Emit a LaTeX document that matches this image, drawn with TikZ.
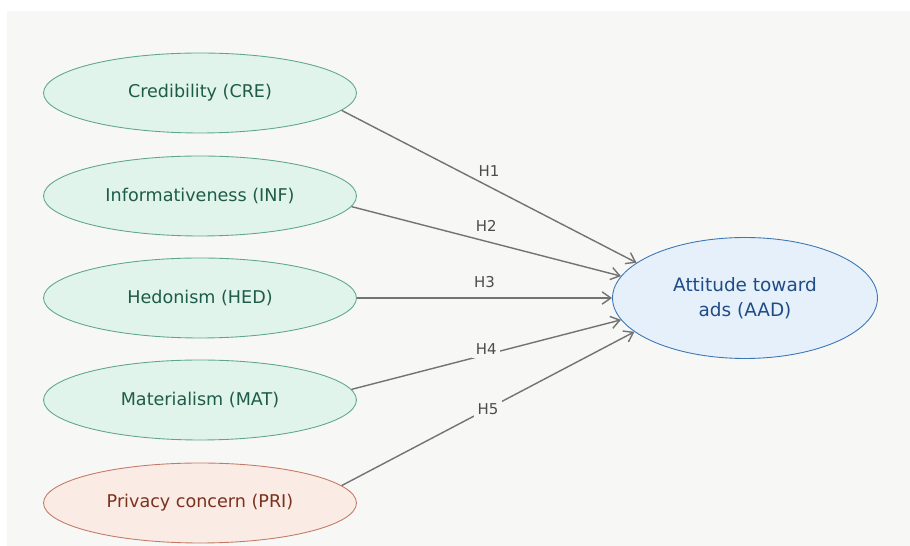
\documentclass[tikz,border=0pt]{standalone}
\usepackage{fontspec}
\setmainfont{DejaVu Sans}
\usetikzlibrary{shapes.geometric, arrows.meta}

\definecolor{pagebg}{HTML}{F7F7F5}
\definecolor{grfill}{HTML}{E0F4EC}
\definecolor{grline}{HTML}{5FA592}
\definecolor{grtext}{HTML}{1E5C49}
\definecolor{rdfill}{HTML}{FAEBE5}
\definecolor{rdline}{HTML}{C27A66}
\definecolor{rdtext}{HTML}{7B321D}
\definecolor{blfill}{HTML}{E5F0FB}
\definecolor{blline}{HTML}{3B76B5}
\definecolor{bltext}{HTML}{1F4C85}
\definecolor{arrowgray}{HTML}{737373}

\begin{document}
\begin{tikzpicture}[x=0.02cm, y=-0.02cm,
    factor/.style={ellipse, draw=grline, fill=grfill, text=grtext, line width=0.5pt,
        minimum width=6.26cm, minimum height=1.6cm, inner sep=0pt, font=\fontsize{10}{12}\selectfont},
    concern/.style={factor, draw=rdline, fill=rdfill, text=rdtext},
    outcome/.style={factor, draw=blline, fill=blfill, text=bltext,
        minimum width=5.3cm, minimum height=2.42cm, align=center, font=\fontsize{10.5}{14.5}\selectfont},
    link/.style={draw=arrowgray, line width=0.8pt, -{Straight Barb[length=5pt, width=7pt]}},
    hyp/.style={font=\fontsize{8.5}{10}\selectfont, text=black!70},
    hypbg/.style={hyp, fill=pagebg, inner sep=2pt}]
    \fill[white] (0,0) rectangle (910,546);
    \fill[pagebg] (7,11) rectangle (910,546);

    \node[factor]  at (200,93)  (CRE) {Credibility (CRE)};
    \node[factor]  at (200,196) (INF) {Informativeness (INF)};
    \node[factor]  at (200,298) (HED) {Hedonism (HED)};
    \node[factor]  at (200,400) (MAT) {Materialism (MAT)};
    \node[concern] at (200,503) (PRI) {Privacy concern (PRI)};
    \node[outcome] at (745,298) (AAD) {Attitude toward\\ads (AAD)};

    \draw[link] (CRE.-7.6) -- node[hyp, above=2pt] {H1} (AAD.162);
    \draw[link] (INF.-4.4) -- node[hyp, above=2pt] {H2} (AAD.170);
    \draw[link] (HED.0) -- node[hyp, above=2pt] {H3} (AAD.180);
    \draw[link] (MAT.4.4) -- node[hypbg, yshift=3pt] {H4} (AAD.190);
    \draw[link] (PRI.7.6) -- node[hypbg] {H5} (AAD.197);
\end{tikzpicture}
\end{document}
